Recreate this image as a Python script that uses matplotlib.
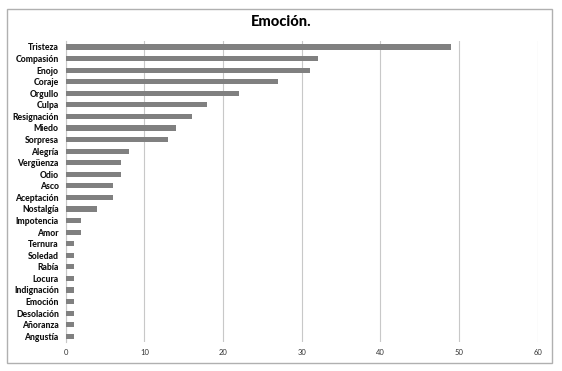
import matplotlib.pyplot as plt
from matplotlib.patches import Rectangle

emociones = ['Tristeza', 'Compasión', 'Enojo', 'Coraje', 'Orgullo', 'Culpa',
             'Resignación', 'Miedo', 'Sorpresa', 'Alegría', 'Vergüenza', 'Odio',
             'Asco', 'Aceptación', 'Nostalgía', 'Impotencia', 'Amor', 'Ternura',
             'Soledad', 'Rabía', 'Locura', 'Indignación', 'Emoción', 'Desolación',
             'Añoranza', 'Angustía']
valores = [49, 32, 31, 27, 22, 18, 16, 14, 13, 8, 7, 7, 6, 6, 4, 2, 2,
           1, 1, 1, 1, 1, 1, 1, 1, 1]
ticks_x = [0, 10, 20, 30, 40, 50, 60]

plt.rcParams['font.family'] = ['Lato', 'DejaVu Sans']

fig = plt.figure(figsize=(5.62, 3.71), dpi=100)
ax = fig.add_axes([0.117, 0.078, 0.84, 0.811])

pos = list(range(len(emociones)))
ax.barh(pos, valores, height=0.45, color='#808080', zorder=3)
ax.set_ylim(len(emociones) - 0.5, -0.5)
ax.set_xlim(0, 60)
ax.set_yticks(pos)
ax.set_yticklabels(emociones, fontsize=6.2, fontweight='black', color='#111111')
ax.set_xticks(ticks_x)
ax.set_xticklabels([str(t) for t in ticks_x], fontsize=5.5, color='#333333')
ax.tick_params(length=0, pad=5)
ax.xaxis.grid(True, color='#c8c8c8', linewidth=0.8, zorder=0)
for s in ['top', 'right', 'bottom']:
    ax.spines[s].set_visible(False)
ax.spines['left'].set_color('#c8c8c8')

fig.text(0.5, 0.94, 'Emoción.', ha='center', va='center', fontsize=10.5, fontweight='black')

fig.patches.append(Rectangle((0.013, 0.022), 0.969, 0.955, transform=fig.transFigure,
                             fill=False, edgecolor='#b0b0b0', linewidth=1))

fig.savefig('out.png', dpi=100)
